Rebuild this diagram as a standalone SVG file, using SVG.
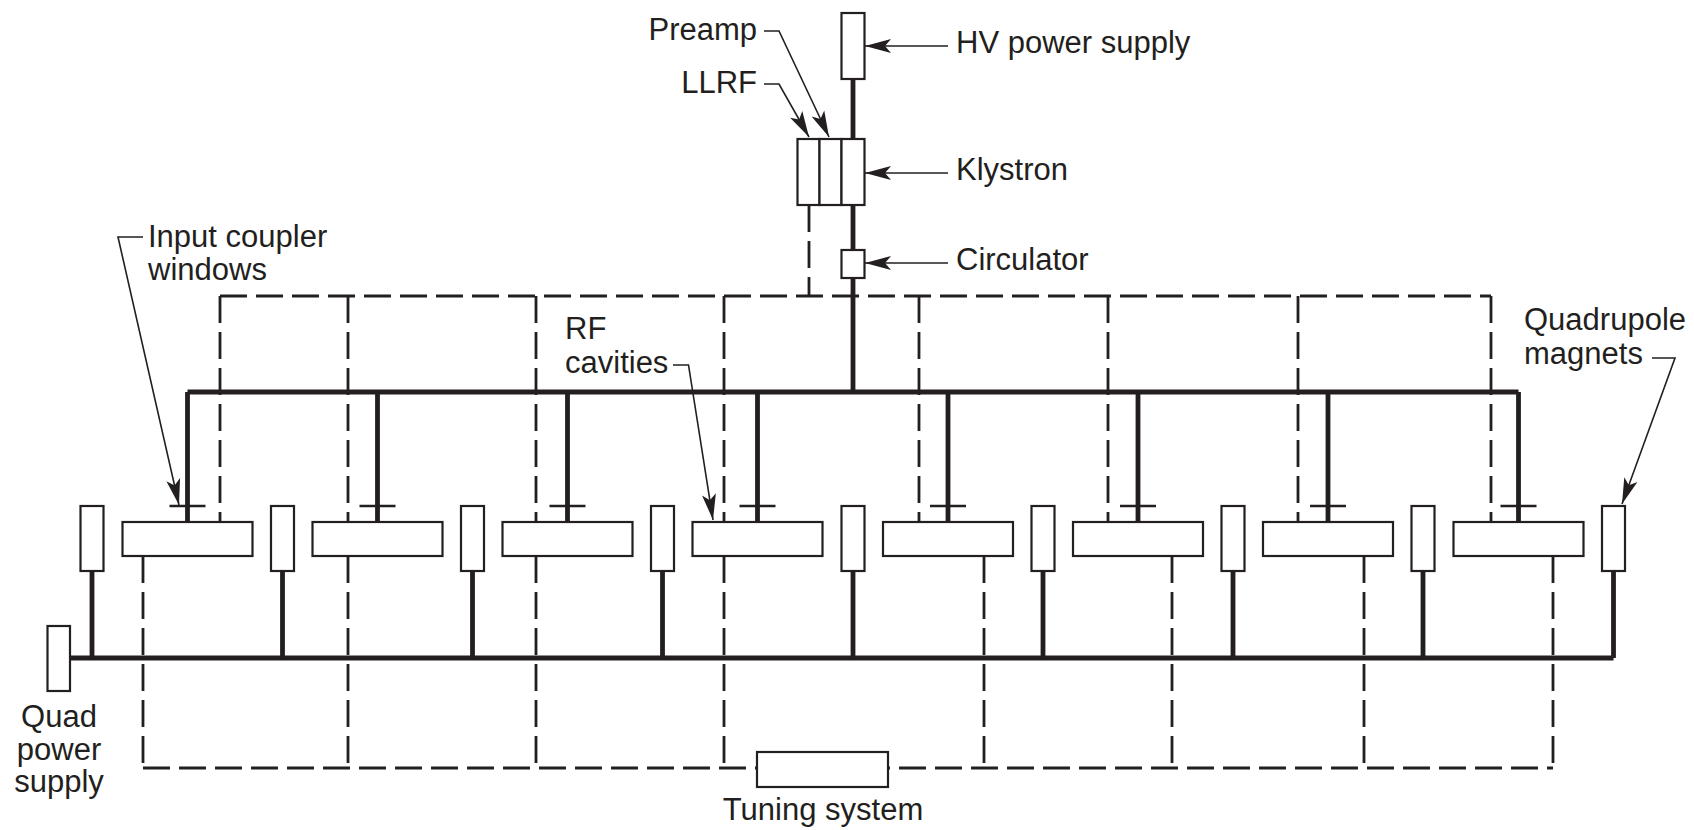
<svg xmlns="http://www.w3.org/2000/svg" width="1694" height="830" viewBox="0 0 1694 830">
<style>
.box{fill:#fff;stroke:#231f20;stroke-width:2.2}
.thick{stroke:#231f20;stroke-width:4.8;fill:none}
.dash{stroke:#231f20;stroke-width:2.8;stroke-dasharray:27 9;fill:none}
.lead{stroke:#231f20;stroke-width:1.6;fill:none}
.win{stroke:#231f20;stroke-width:2.6;fill:none}
.arr{marker-end:url(#ah)}
text{font-family:"Liberation Sans",Arial,Helvetica,sans-serif;font-size:31px;fill:#231f20}
.mid{text-anchor:middle}
.end{text-anchor:end}
</style>
<defs>
<marker id="ah" markerUnits="userSpaceOnUse" markerWidth="32" markerHeight="18" viewBox="-28 -9 31 18" refX="0" refY="0" orient="auto">
<path d="M0,0 L-26,-7 L-20,0 L-26,7 Z" fill="#231f20"/>
</marker>
</defs>
<rect width="1694" height="830" fill="#fff"/>
<g id="connectors">
<g id="tuning-lines">
<path class="dash" d="M220,296 H1491"/>
<path class="dash" d="M809,205 V296"/>
<path class="dash" d="M220,296 V522 M348,296 V522 M536,296 V522 M724,296 V522 M919,296 V522 M1108,296 V522 M1298,296 V522 M1491,296 V522"/>
<path class="dash" d="M143,556 V768 M348,556 V768 M536,556 V768 M724,556 V768 M984,556 V768 M1172,556 V768 M1364,556 V768 M1553,556 V768"/>
<path class="dash" d="M143,768 H1553"/>
</g>
<g id="rf-lines">
<path class="thick" d="M853,79 V392"/>
<path class="thick" d="M187.5,392 H1518.5"/>
<path class="thick" d="M187.5,392 V522 M377.5,392 V522 M567.5,392 V522 M757.5,392 V522 M948,392 V522 M1138,392 V522 M1328,392 V522 M1518.5,392 V522"/>
</g>
<g id="quad-lines">
<path class="thick" d="M70,658 H1613.5"/>
<path class="thick" d="M92,571 V658 M282.5,571 V658 M472.5,571 V658 M662.5,571 V658 M853,571 V658 M1043,571 V658 M1233,571 V658 M1423,571 V658 M1613.5,571 V658"/>
</g>
<g id="windows">
<path class="win" d="M169.5,506 h36 M359.5,506 h36 M549.5,506 h36 M739.5,506 h36 M930,506 h36 M1120,506 h36 M1310,506 h36 M1500.5,506 h36"/>
</g>
</g>
<g id="hv-supply"><rect class="box" x="841.5" y="13" width="23" height="66"/></g>
<g id="llrf"><rect class="box" x="797.5" y="139" width="22" height="66"/></g>
<g id="preamp"><rect class="box" x="819.5" y="139" width="22" height="66"/></g>
<g id="klystron"><rect class="box" x="841.5" y="139" width="23" height="66"/></g>
<g id="circulator"><rect class="box" x="841.5" y="250" width="23" height="28"/></g>
<g id="cavities">
<g id="cav1"><rect class="box" x="122.5" y="522" width="130" height="34"/></g>
<g id="cav2"><rect class="box" x="312.5" y="522" width="130" height="34"/></g>
<g id="cav3"><rect class="box" x="502.5" y="522" width="130" height="34"/></g>
<g id="cav4"><rect class="box" x="692.5" y="522" width="130" height="34"/></g>
<g id="cav5"><rect class="box" x="883" y="522" width="130" height="34"/></g>
<g id="cav6"><rect class="box" x="1073" y="522" width="130" height="34"/></g>
<g id="cav7"><rect class="box" x="1263" y="522" width="130" height="34"/></g>
<g id="cav8"><rect class="box" x="1453.5" y="522" width="130" height="34"/></g>
</g>
<g id="quads">
<g id="q1"><rect class="box" x="80.5" y="506" width="23" height="65"/></g>
<g id="q2"><rect class="box" x="271" y="506" width="23" height="65"/></g>
<g id="q3"><rect class="box" x="461" y="506" width="23" height="65"/></g>
<g id="q4"><rect class="box" x="651" y="506" width="23" height="65"/></g>
<g id="q5"><rect class="box" x="841.5" y="506" width="23" height="65"/></g>
<g id="q6"><rect class="box" x="1031.5" y="506" width="23" height="65"/></g>
<g id="q7"><rect class="box" x="1221.5" y="506" width="23" height="65"/></g>
<g id="q8"><rect class="box" x="1411.5" y="506" width="23" height="65"/></g>
<g id="q9"><rect class="box" x="1602" y="506" width="23" height="65"/></g>
</g>
<g id="quad-power-supply"><rect class="box" x="47.5" y="626" width="22.5" height="65"/></g>
<g id="tuning-system"><rect class="box" x="757" y="752" width="131" height="35"/></g>
<g id="leaders">
<path class="lead arr" d="M948,46 H865"/>
<path class="lead arr" d="M948,173 H865"/>
<path class="lead arr" d="M948,263 H865"/>
<path class="lead arr" d="M764,31 H779 L829,137"/>
<path class="lead arr" d="M764,84 H779 L809,137"/>
<path class="lead arr" d="M143,237 H118 L179,505"/>
<path class="lead arr" d="M673,365 H688.5 L713,520"/>
<path class="lead arr" d="M1652,358 H1675 L1622,504"/>
</g>
<g id="labels">
<text class="end" x="757" y="40">Preamp</text>
<text class="end" x="757" y="93">LLRF</text>
<text x="956" y="53">HV power supply</text>
<text x="956" y="180">Klystron</text>
<text x="956" y="270">Circulator</text>
<text x="148" y="247">Input coupler</text>
<text x="148" y="280">windows</text>
<text x="565" y="339">RF</text>
<text x="565" y="373">cavities</text>
<text x="1524" y="330">Quadrupole</text>
<text x="1524" y="364">magnets</text>
<text class="mid" x="59" y="727">Quad</text>
<text class="mid" x="59" y="760">power</text>
<text class="mid" x="59" y="792">supply</text>
<text class="mid" x="823" y="820">Tuning system</text>
</g>
</svg>
